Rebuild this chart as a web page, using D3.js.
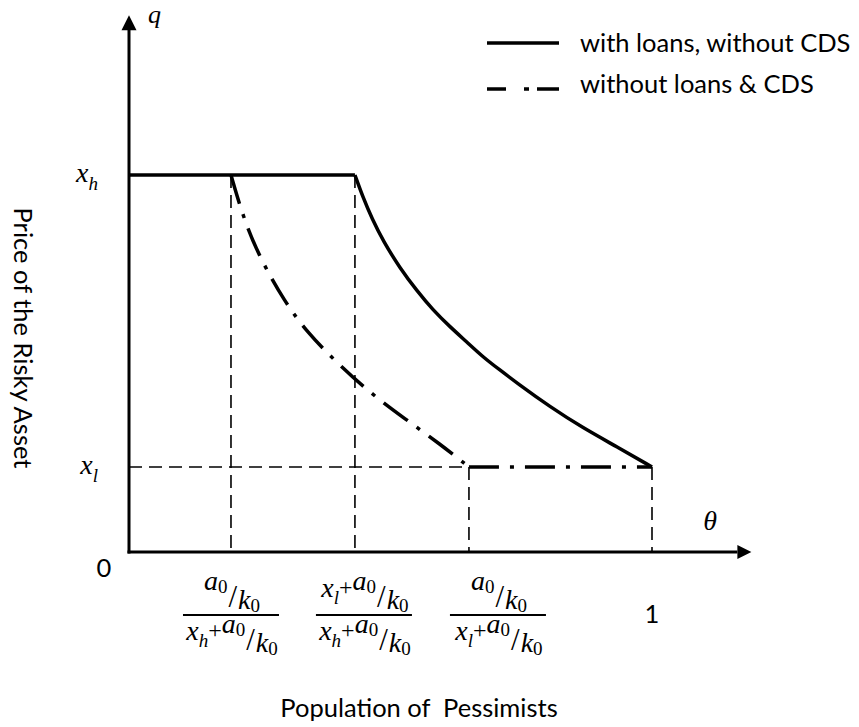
<!DOCTYPE html>
<html><head><meta charset="utf-8">
<script src="https://cdn.jsdelivr.net/npm/d3@7"></script>
<style>
body{margin:0;background:#fff;}
svg{display:block;background:#fff;}
</style></head>
<body><svg id="chart" width="859" height="727"></svg>
<script>
// ---------------- data ----------------
const thetaTicks = [0.195, 0.432, 0.650, 1.0];          // positions of the θ guide lines
const qLevelValues = [1.0, 0.2255];                      // x_h, x_l
const qLevelNames = [["x", "h"], ["x", "l"]];
const solidTheta = [0.432, 0.447, 0.465, 0.486, 0.518, 0.551, 0.581, 0.614, 0.646, 0.677, 0.709, 0.742, 0.805, 0.868, 0.933, 1.0];
const solidQ     = [1.0, 0.942, 0.883, 0.825, 0.753, 0.692, 0.642, 0.597, 0.557, 0.517, 0.483, 0.448, 0.385, 0.329, 0.279, 0.2255];
const dashTheta  = [0.195, 0.218, 0.250, 0.298, 0.340, 0.398, 0.461, 0.528, 0.595, 0.650];
const dashQ      = [1.0, 0.889, 0.780, 0.663, 0.584, 0.501, 0.422, 0.353, 0.286, 0.2255];
const seriesNames = ["with loans, without CDS", "without loans & CDS"];
const xTitle = "Population of  Pessimists";
const yTitle = "Price of the Risky Asset";
const axisSymbols = ["θ", "q"];
const originLabel = "0";
const oneLabel = "1";

// ---------------- layout ----------------
const svg = d3.select("#chart");
const x = d3.scaleLinear().domain([0, 1]).range([129, 652]);
const y = d3.scaleLinear().domain([0, 1]).range([552, 175]);
const xEnd = 1.19, yEnd = 1.424;
const SANS = "Lato, 'Open Sans', sans-serif";
const MATH = "'Liberation Serif', 'DejaVu Serif', serif";

// dashed guide lines
const guides = svg.append("g").attr("stroke", "#000").attr("stroke-width", 1.6)
  .attr("stroke-dasharray", "13,7").attr("fill", "none");
guides.append("line").attr("x1", x(0)).attr("x2", x(thetaTicks[2]))
  .attr("y1", y(qLevelValues[1])).attr("y2", y(qLevelValues[1]));
thetaTicks.forEach((t, i) => {
  const top = i < 2 ? qLevelValues[0] : qLevelValues[1];
  guides.append("line").attr("x1", x(t)).attr("x2", x(t))
    .attr("y1", y(top)).attr("y2", y(0));
});

// axes
const ax = svg.append("g").attr("stroke", "#000").attr("stroke-width", 3);
ax.append("line").attr("x1", x(0)).attr("x2", x(0)).attr("y1", y(0) + 1.5).attr("y2", y(yEnd) + 14);
ax.append("line").attr("x1", x(0) - 1.5).attr("x2", x(xEnd) - 14).attr("y1", y(0)).attr("y2", y(0));
svg.append("path").attr("fill", "#000")
  .attr("d", `M${x(0)},${y(yEnd)} L${x(0) - 7.5},${y(yEnd) + 15} L${x(0) + 7.5},${y(yEnd) + 15} Z`);
svg.append("path").attr("fill", "#000")
  .attr("d", `M${x(xEnd)},${y(0)} L${x(xEnd) - 14},${y(0) - 7} L${x(xEnd) - 14},${y(0) + 7} Z`);

// series
const line = d3.line().x(d => x(d[0])).y(d => y(d[1]));
const curve = d3.line().x(d => x(d[0])).y(d => y(d[1])).curve(d3.curveBasis);
const solidPts = solidTheta.map((t, i) => [t, solidQ[i]]);
const dashPts = dashTheta.map((t, i) => [t, dashQ[i]]);

svg.append("path").attr("d", line([[0, qLevelValues[0]], solidPts[0]]))
  .attr("fill", "none").attr("stroke", "#000").attr("stroke-width", 3.5);
svg.append("path").attr("d", curve(solidPts))
  .attr("fill", "none").attr("stroke", "#000").attr("stroke-width", 3.5);
svg.append("path").attr("d", curve(dashPts))
  .attr("fill", "none").attr("stroke", "#000").attr("stroke-width", 3.5)
  .attr("stroke-dasharray", "30,11,4,11");
svg.append("path").attr("d", line([dashPts[dashPts.length - 1], [1, qLevelValues[1]]]))
  .attr("fill", "none").attr("stroke", "#000").attr("stroke-width", 3.5)
  .attr("stroke-dasharray", "30,11,4,11");

// legend
const lg = svg.append("g");
[0, 1].forEach(i => {
  const ly = [43, 89][i];
  lg.append("line").attr("x1", 487).attr("x2", 559).attr("y1", ly).attr("y2", ly)
    .attr("stroke", "#000").attr("stroke-width", 3.5)
    .attr("stroke-dasharray", i === 0 ? null : "19,18,5,8,22,40");
  lg.append("text").attr("x", 580).attr("y", [52, 93][i]).text(seriesNames[i])
    .attr("font-family", SANS).attr("font-size", 25.5).attr("fill", "#000");
});

// axis titles & plain labels
svg.append("text").attr("x", 419).attr("y", 717).attr("text-anchor", "middle")
  .style("white-space", "pre").attr("font-family", SANS).attr("font-size", 25.5).text(xTitle);
svg.append("text").attr("transform", "translate(14,338) rotate(90)").attr("text-anchor", "middle")
  .attr("font-family", SANS).attr("font-size", 25.5).text(yTitle);
svg.append("text").attr("x", x(0) - 25).attr("y", y(0) + 25).attr("text-anchor", "middle")
  .attr("font-family", SANS).attr("font-size", 25.5).text(originLabel);
svg.append("text").attr("x", x(thetaTicks[3])).attr("y", y(0) + 71).attr("text-anchor", "middle")
  .attr("font-family", SANS).attr("font-size", 25.5).text(oneLabel);

// math symbols
svg.append("text").attr("x", x(0) + 19).attr("y", y(yEnd) + 8).attr("font-family", MATH)
  .attr("font-style", "italic").attr("font-size", 26).text(axisSymbols[1]);
svg.append("text").attr("x", x(xEnd) - 48).attr("y", y(0) - 22).attr("font-family", MATH)
  .attr("font-style", "italic").attr("font-size", 28).text(axisSymbols[0]);

function mathText(tokens, cx, base, anchor) {
  const t = svg.append("text").attr("x", 0).attr("y", base).attr("fill", "#000");
  let prev = 0;
  tokens.forEach(tk => {
    t.append("tspan").attr("dy", tk.off - prev).attr("dx", tk.dx || 0)
      .attr("font-family", MATH).attr("font-size", tk.sz)
      .attr("font-style", tk.it ? "italic" : "normal").text(tk.t);
    prev = tk.off;
  });
  const w = t.node().getComputedTextLength();
  const x0 = anchor === "end" ? cx - w : cx - w / 2;
  t.attr("x", x0);
  return t;
}
// y-level labels
qLevelNames.forEach((nm, i) => {
  mathText([{t: nm[0], sz: 28, it: true, off: 0}, {t: nm[1], sz: 19, it: true, off: 8}],
    x(0) - 31, y(qLevelValues[i]) + 7, "end");
});

// fraction tick labels
const skew = [
  {t: "a", sz: 28, it: true, off: -17}, {t: "0", sz: 19, off: -14},
  {t: "/", sz: 31, off: 0, dx: 1}, {t: "k", sz: 28, it: true, off: 2, dx: 1}, {t: "0", sz: 19, off: 5}];
const xsum = s => [{t: "x", sz: 28, it: true, off: -10}, {t: s, sz: 19, it: true, off: -3},
  {t: "+", sz: 24, off: -12}];
const fracNum = [skew, xsum("l").concat(skew), skew];
const fracDen = [xsum("h").concat(skew), xsum("h").concat(skew), xsum("l").concat(skew)];
const fracShift = [0, 9, 29];
[0, 1, 2].forEach(i => {
  const cx = x(thetaTicks[i]) + fracShift[i];
  mathText(fracNum[i], cx, 607);
  mathText(fracDen[i], cx, 650);
  svg.append("line").attr("x1", cx - 48).attr("x2", cx + 48).attr("y1", 615).attr("y2", 615)
    .attr("stroke", "#000").attr("stroke-width", 2);
});
</script></body></html>
